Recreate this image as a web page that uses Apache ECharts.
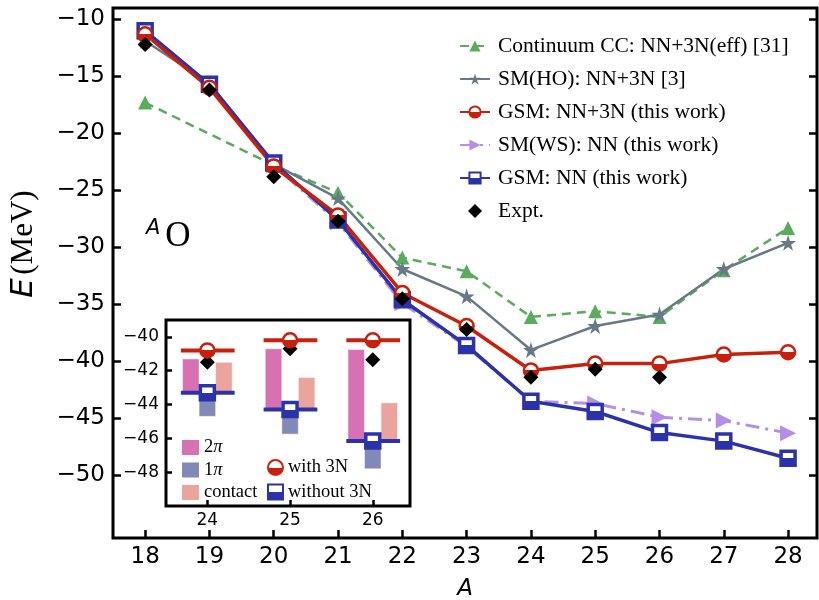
<!DOCTYPE html>
<html><head><meta charset="utf-8">
<script src="https://cdn.jsdelivr.net/npm/echarts@6/dist/echarts.min.js"></script>
<style>html,body{margin:0;padding:0;background:#fff}#c{width:819px;height:600px}</style>
</head><body><div id="c"></div>
<script>
// ---- main plot data ----
const massA   = [18,19,20,21,22,23,24,25,26,27,28];
const ccA     = [18,20,21,22,23,24,25,26,27,28];
const ccE     = [-17.3,-22.8,-25.2,-30.9,-32.1,-36.1,-35.6,-36.1,-32.0,-28.3];
const smhoE   = [-11.9,-15.6,-22.7,-25.7,-31.9,-34.3,-39.0,-36.9,-35.9,-31.9,-29.6];
const gsm3nE  = [-11.3,-16.0,-22.9,-27.2,-34.0,-36.9,-40.8,-40.2,-40.2,-39.4,-39.2];
const smwsE   = [-11.1,-15.8,-22.8,-27.8,-34.9,-38.7,-43.5,-43.7,-44.9,-45.2,-46.3];
const gsmnnE  = [-11.0,-15.7,-22.6,-27.6,-34.6,-38.6,-43.5,-44.4,-46.25,-47.0,-48.5];
const exptA   = [18,19,20,21,22,23,24,25,26];
const exptE   = [-12.2,-16.2,-23.8,-27.7,-34.5,-37.2,-41.4,-40.7,-41.4];
const xTicks  = [18,19,20,21,22,23,24,25,26,27,28];
const yTicks  = [-50,-45,-40,-35,-30,-25,-20,-15,-10];
// ---- inset data ----
const insetA      = [24,25,26];
const with3N      = [-40.8,-40.2,-40.2];
const without3N   = [-43.3,-44.3,-46.15];
const insetExpt   = [-41.5,-40.7,-41.35];
const twoPiTop    = [-41.3,-40.7,-40.75];
const onePiBottom = [-44.7,-45.75,-47.8];
const contactTop  = [-41.5,-42.4,-43.9];
const insetXTicks = [24,25,26];
const insetYTicks = [-48,-46,-44,-42,-40];

const names = ['Continuum CC: NN+3N(eff) [31]','SM(HO): NN+3N [3]','GSM: NN+3N (this work)','SM(WS): NN (this work)','GSM: NN (this work)','Expt.'];

const RED='#c8200c', BLUE='#2b33a8', GRAY='#657987', GREEN='#5aac5c', PURPLE='#b48ee8';
const PINK='#d870b4', PI1='#8389b6', CONTACT='#eaa39d';
const STAR='path://M50,0 L61.2,34.5 L97.6,34.5 L68.2,55.9 L79.4,90.5 L50,69.1 L20.6,90.5 L31.8,55.9 L2.4,34.5 L38.8,34.5 Z';
const DIAMOND='path://M50,0 L100,50 L50,100 L0,50 Z';
function half(c){return {type:'linear',x:0,y:0,x2:0,y2:1,colorStops:[{offset:0,color:'#fff'},{offset:0.5,color:'#fff'},{offset:0.5,color:c},{offset:1,color:c}]};}
const minus = v => String(v).replace('-', '\u2212');
const pair = (xs, ys) => xs.map((x,i)=>[x, ys[i]]);

function barSeries(name, color, offset, lows, highs){
  return {
    name, type:'custom', xAxisIndex:1, yAxisIndex:2, z:5,
    itemStyle:{color},
    data: insetA.map((a,i)=>[a, lows[i], highs[i]]),
    renderItem(params, api){
      const x=api.value(0), lo=api.value(1), hi=api.value(2), w=0.2;
      const p1=api.coord([x+offset-w/2, hi]), p2=api.coord([x+offset+w/2, lo]);
      return {type:'rect', shape:{x:p1[0], y:p1[1], width:p2[0]-p1[0], height:p2[1]-p1[1]},
        style:{fill:color, stroke:'rgba(255,255,255,0.5)', lineWidth:1}};
    }
  };
}
function hLineSeries(color, ys){
  return {
    type:'custom', xAxisIndex:1, yAxisIndex:2, z:7,
    data: insetA.map((a,i)=>[a, ys[i]]),
    renderItem(params, api){
      const x=api.value(0), y=api.value(1);
      const p1=api.coord([x-0.32, y]), p2=api.coord([x+0.33, y]);
      return {type:'line', shape:{x1:p1[0], y1:p1[1], x2:p2[0], y2:p2[1]}, style:{stroke:color, lineWidth:4}};
    }
  };
}

const chart = echarts.init(document.getElementById('c'), null, {renderer:'canvas'});
const tickStyle = {show:true, inside:true, length:8, lineStyle:{color:'#000', width:2.5}};
chart.setOption({
  animation:false,
  backgroundColor:'#fff',
  grid:[
    {left:113, top:8, width:704, height:530, show:true, borderColor:'#000', borderWidth:3, backgroundColor:'transparent', outerBoundsMode:'none', containLabel:false},
    {left:166, top:320, width:244, height:186, show:true, borderColor:'#000', borderWidth:3, backgroundColor:'#fff', outerBoundsMode:'none', containLabel:false}
  ],
  xAxis:[
    {type:'value', gridIndex:0, min:17.5, max:28.45, axisLine:{show:false}, splitLine:{show:false},
     axisTick:Object.assign({customValues:xTicks}, tickStyle),
     axisLabel:{customValues:xTicks, margin:8, fontFamily:'DejaVu Sans', fontSize:23, color:'#000'},
     name:'A', nameLocation:'middle', nameGap:40, nameTextStyle:{fontFamily:'DejaVu Sans', fontStyle:'italic', fontSize:23, color:'#000'}},
    {type:'value', gridIndex:1, min:23.5, max:26.45, axisLine:{show:false}, splitLine:{show:false},
     axisTick:Object.assign({customValues:insetXTicks}, tickStyle, {length:6}),
     axisLabel:{customValues:insetXTicks, margin:6, fontFamily:'DejaVu Sans', fontSize:17, color:'#000'}}
  ],
  yAxis:[
    {type:'value', gridIndex:0, min:-55.5, max:-9, axisLine:{show:false}, splitLine:{show:false},
     axisTick:Object.assign({customValues:yTicks}, tickStyle),
     axisLabel:{customValues:yTicks, margin:8, fontFamily:'DejaVu Sans', fontSize:23, color:'#000', formatter:minus}},
    {type:'value', gridIndex:0, position:'right', min:-55.5, max:-9, axisLine:{show:false}, splitLine:{show:false},
     axisTick:Object.assign({customValues:yTicks}, tickStyle), axisLabel:{show:false}},
    {type:'value', gridIndex:1, min:-50, max:-39, axisLine:{show:false}, splitLine:{show:false},
     axisTick:Object.assign({customValues:insetYTicks}, tickStyle, {length:6}),
     axisLabel:{customValues:insetYTicks, margin:7, fontFamily:'DejaVu Sans', fontSize:17, color:'#000', formatter:minus}}
  ],
  legend:[
    {data:names, orient:'vertical', left:459, top:35, padding:0, itemGap:11, itemWidth:30, itemHeight:14,
     textStyle:{fontFamily:'Liberation Serif', fontSize:21.5, color:'#000', padding:[0,0,0,3]}},
    {data:[{name:'2π',icon:'rect'},{name:'1π',icon:'rect'},{name:'contact',icon:'rect'}], orient:'vertical', left:182, top:438, padding:0, itemGap:3.5, itemWidth:17, itemHeight:15,
     formatter: n => n.replace('π','{i|π}'),
     textStyle:{fontFamily:'Liberation Serif', fontSize:18.5, color:'#000', rich:{i:{fontFamily:'Liberation Serif', fontStyle:'italic', fontSize:18.5, color:'#000'}}}},
    {data:['with 3N','without 3N'], orient:'vertical', left:267, top:458, padding:0, itemGap:5.5, itemWidth:15, itemHeight:15,
     textStyle:{fontFamily:'Liberation Serif', fontSize:18.5, color:'#000'}}
  ],
  graphic:[
    {type:'text', left:146, top:218, z:10, style:{text:'{a|A}{o|O}', rich:{
      a:{fontFamily:'DejaVu Sans', fontStyle:'italic', fontSize:21, color:'#000', verticalAlign:'top', padding:[0,5,16,0]},
      o:{fontFamily:'Liberation Serif', fontSize:35, color:'#000'}}}},
    {type:'text', x:24, y:244, rotation:Math.PI/2, z:10, style:{text:'{e|E} {m|(MeV)}', align:'center', verticalAlign:'middle', rich:{
      e:{fontFamily:'DejaVu Sans', fontStyle:'italic', fontSize:31, color:'#000'},
      m:{fontFamily:'Liberation Serif', fontSize:31, color:'#000'}}}}
  ],
  series:[
    {name:names[0], type:'line', data:pair(ccA, ccE), symbol:'triangle', symbolSize:14, z:3,
     itemStyle:{color:GREEN}, lineStyle:{color:GREEN, width:2.5, type:[9,6]}},
    {name:names[1], type:'line', data:pair(massA, smhoE), symbol:STAR, symbolSize:16, z:3,
     itemStyle:{color:GRAY}, lineStyle:{color:GRAY, width:2.5}},
    {name:names[3], type:'line', data:pair(massA, smwsE), symbol:'triangle', symbolRotate:-90, symbolSize:16, z:3,
     itemStyle:{color:PURPLE}, lineStyle:{color:PURPLE, width:3, type:[14,6,3,6]}},
    {name:names[4], type:'line', data:pair(massA, gsmnnE), symbol:'rect', symbolSize:14, z:3,
     itemStyle:{color:half(BLUE), borderColor:BLUE, borderWidth:3.5}, lineStyle:{color:BLUE, width:3.5}},
    {name:names[2], type:'line', data:pair(massA, gsm3nE), symbol:'circle', symbolSize:14, z:3,
     itemStyle:{color:half(RED), borderColor:RED, borderWidth:2.5}, lineStyle:{color:RED, width:3.5}},
    {name:names[5], type:'scatter', data:pair(exptA, exptE), symbol:DIAMOND, symbolSize:15, z:4,
     itemStyle:{color:'#000', opacity:1}},
    // inset
    barSeries('2π', PINK, -0.2, without3N, twoPiTop),
    barSeries('1π', PI1, 0, onePiBottom, without3N),
    barSeries('contact', CONTACT, 0.2, without3N, contactTop),
    {type:'scatter', xAxisIndex:1, yAxisIndex:2, data:pair(insetA, insetExpt), symbol:DIAMOND, symbolSize:15, z:6,
     itemStyle:{color:'#000', opacity:1}},
    hLineSeries(RED, with3N),
    hLineSeries(BLUE, without3N),
    {name:'with 3N', type:'scatter', xAxisIndex:1, yAxisIndex:2, data:pair(insetA, with3N), symbol:'circle', symbolSize:14, z:8,
     itemStyle:{color:half(RED), borderColor:RED, borderWidth:2.5, opacity:1}},
    {name:'without 3N', type:'scatter', xAxisIndex:1, yAxisIndex:2, data:pair(insetA, without3N), symbol:'rect', symbolSize:14, z:8,
     itemStyle:{color:half(BLUE), borderColor:BLUE, borderWidth:3.5, opacity:1}}
  ]
});
</script>
</body></html>
